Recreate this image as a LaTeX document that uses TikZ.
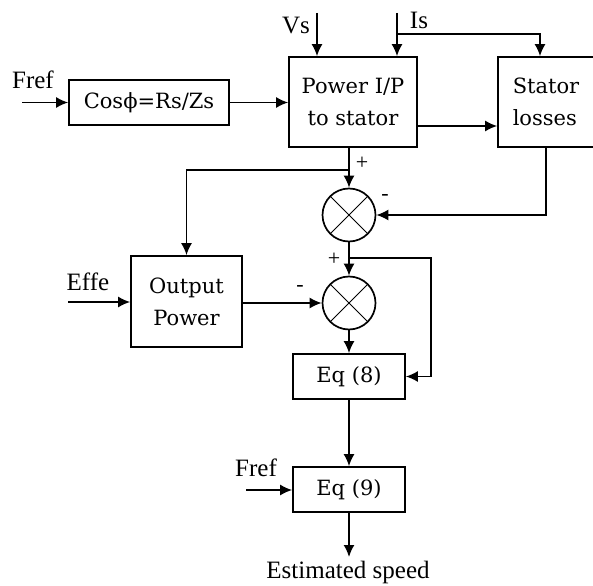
\documentclass[tikz,border=0pt]{standalone}
\usepackage{fontspec}
\setmainfont{Liberation Serif}
\newfontfamily\boxfont{DejaVu Serif}
\usepackage{tikz}
\usetikzlibrary{arrows.meta}
\newcommand{\blockfont}{\boxfont\fontsize{21}{32}\selectfont}
\newcommand{\labelfont}{\fontsize{25}{25}\selectfont}

\begin{document}
\begin{tikzpicture}[x=1pt,y=-1pt,line width=1.7pt,>={Latex[length=12pt,width=11pt]},
  block/.style={draw,font=\blockfont,inner sep=0pt},
  sumnode/.style={draw,circle,minimum size=53pt,inner sep=0pt,
    path picture={\draw[line width=1pt] (path picture bounding box.north west) -- (path picture bounding box.south east)
      (path picture bounding box.north east) -- (path picture bounding box.south west);}},
  lbl/.style={font=\labelfont,inner sep=0pt},
  sgn/.style={font=\fontsize{22}{22}\selectfont,inner sep=0pt}]
 \useasboundingbox (0,0) rectangle (593,585);
 % blocks
 \node[block,minimum width=160pt,minimum height=45pt] (cos) at (149,102.5) {Cosϕ=Rs/Zs};
 \node[block,minimum width=128pt,minimum height=90pt,align=center] (pwr) at (353,102) {Power I/P\\to stator};
 \node[block,minimum width=96pt,minimum height=90pt,align=left] (stl) at (546,102) {Stator\\losses};
 \node[block,minimum width=111pt,minimum height=91pt,align=center] (outp) at (186.5,301.5) {Output\\Power};
 \node[sumnode] (sum1) at (349,215) {};
 \node[sumnode] (sum2) at (349,303) {};
 \node[block,minimum width=112pt,minimum height=45pt] (eq8) at (349,376.5) {Eq (8)};
 \node[block,minimum width=112pt,minimum height=45pt] (eq9) at (349,489.5) {Eq (9)};
 % labels
 \node[lbl] (fref1) at (33,80) {Fref};
 \node[lbl] (vs) at (296,26) {Vs};
 \node[lbl] (is) at (419,20) {Is};
 \node[lbl] (effe) at (88,282) {Effe};
 \node[lbl] (fref2) at (256,468) {Fref};
 \node[lbl] (speed) at (348,572) {Estimated speed};
 \node[sgn] (plus1) at (362,163) {+};
 \node[sgn] (minus1) at (385,197) {-};
 \node[sgn] (plus2) at (334,259) {+};
 \node[sgn] (minus2) at (300,288) {-};
 % free ends
 \coordinate (frefin) at (22,102.5);
 \coordinate (vsin) at (317,13);
 \coordinate (isin) at (397,13);
 \coordinate (isbr) at (397,34);
 \coordinate (istop) at (540,34);
 \coordinate (pwrout) at (417,126);
 \coordinate (br1) at (349,170);
 \coordinate (br2) at (349,258);
 \coordinate (fb) at (431,258);
 \coordinate (effein) at (68,302);
 \coordinate (fref2in) at (246,490);
 \coordinate (spout) at (349,557);
 \path[->]
   (frefin) edge (frefin -| cos.west)
   (cos.east) edge (cos.east -| pwr.west)
   (vsin) edge (vsin |- pwr.north)
   (isin) edge (isin |- pwr.north)
   (pwrout) edge (pwrout -| stl.west)
   (sum1.north |- pwr.south) edge (sum1.north)
   (sum1) edge (sum2)
   (outp.east |- sum2.west) edge (sum2.west)
   (effein) edge (effein -| outp.west)
   (sum2) edge (eq8)
   (eq8) edge (eq9)
   (fref2in) edge (fref2in -| eq9.west)
   (eq9) edge (spout);
 \draw[->] (isbr) -- (istop) -- (istop |- stl.north);
 \draw[->] (br1) -| (outp.north);
 \draw[->] (stl.south) |- (sum1.east);
 \draw[->] (br2) -- (fb) |- (eq8.east);
\end{tikzpicture}
\end{document}
